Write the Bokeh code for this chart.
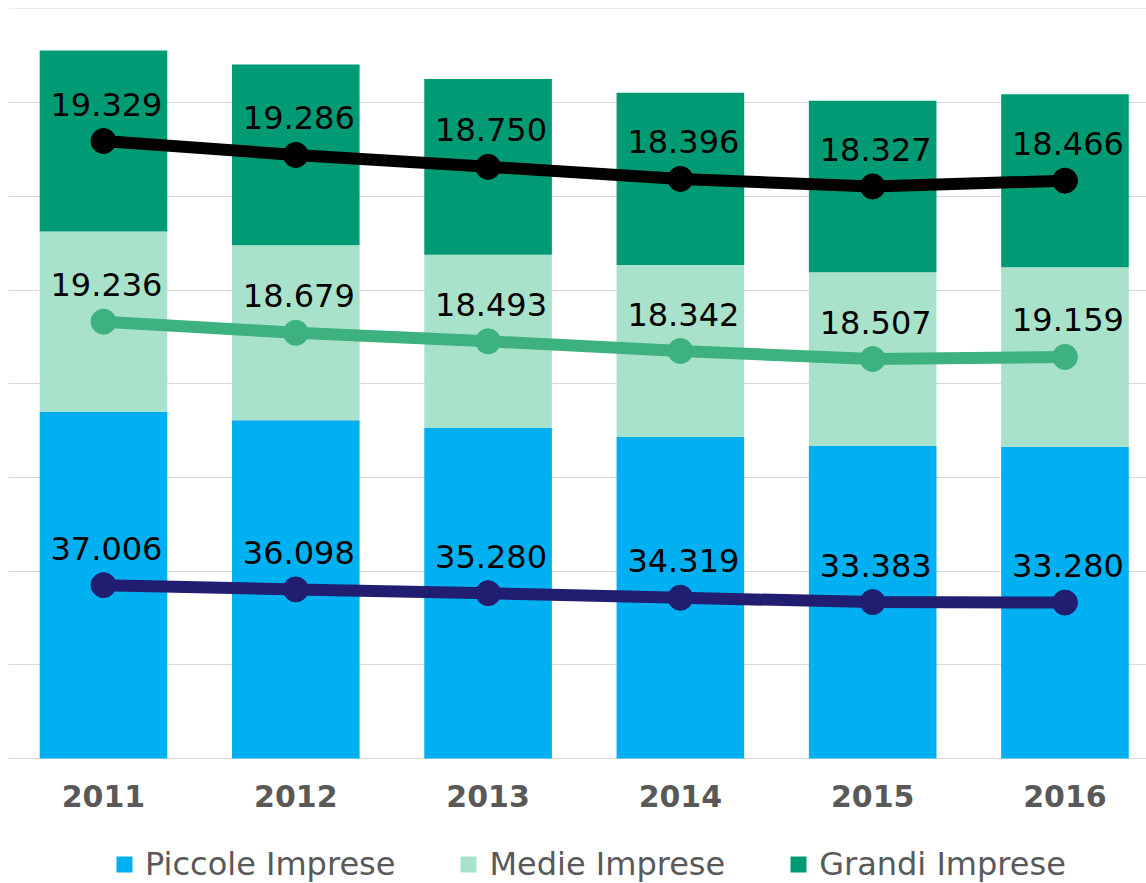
from bokeh.plotting import figure
from bokeh.models import (FixedTicker, Range1d, Legend, LegendItem)
from bokeh.core.properties import value
from bokeh.embed import file_html
from bokeh.resources import INLINE

years = ["2011", "2012", "2013", "2014", "2015", "2016"]
piccole = [37006, 36098, 35280, 34319, 33383, 33280]
medie = [19236, 18679, 18493, 18342, 18507, 19159]
grandi = [19329, 19286, 18750, 18396, 18327, 18466]
series_names = ["Piccole Imprese", "Medie Imprese", "Grandi Imprese"]
grid_values = [0, 10000, 20000, 30000, 40000, 50000, 60000, 70000, 80000]

bar_colors = ["#00B0F0", "#A9E2CA", "#009B74"]
line_colors = ["#211D70", "#3DB17F", "#000000"]

xs = list(range(len(years)))

# frame extends below zero so that the axis labels and legend sit inside it
p = figure(frame_width=1138, frame_height=875, output_backend="svg", toolbar_location=None,
           x_range=Range1d(-0.494, 5.424), y_range=Range1d(-13342, 80050),
           min_border_left=8, min_border_right=0, min_border_top=8,
           min_border_bottom=0)
p.outline_line_color = None
p.background_fill_color = "white"

data = {"x": xs, "piccole": piccole, "medie": medie, "grandi": grandi}
stack_keys = ["piccole", "medie", "grandi"]
bars = p.vbar_stack(stack_keys, x="x", width=0.6636, color=bar_colors,
                    line_color=None, source=data)

def fmt(v):
    return f"{v:,}".replace(",", ".")

# lines run through the middle of each stacked segment
bottoms = [0] * len(years)
for vals, lc in zip([piccole, medie, grandi], line_colors):
    mids = [b + v / 2 for b, v in zip(bottoms, vals)]
    p.line(xs, mids, line_color=lc, line_width=12)
    p.scatter(xs, mids, size=25, fill_color=lc, line_color=lc)
    p.text(xs, mids, text=[fmt(v) for v in vals], text_align="center",
           text_baseline="alphabetic", y_offset=-37, x_offset=3,
           text_font=value("DejaVu Sans"), text_font_size="32px",
           text_color="black")
    bottoms = [b + v for b, v in zip(bottoms, vals)]

p.yaxis.visible = False
p.ygrid.ticker = FixedTicker(ticks=grid_values)
p.ygrid.grid_line_color = "#D9D9D9"
p.ygrid.grid_line_width = 1
p.xgrid.visible = False

p.xaxis.fixed_location = 0
p.xaxis.ticker = FixedTicker(ticks=xs)
p.xaxis.major_label_overrides = {i: y for i, y in enumerate(years)}
p.xaxis.axis_line_color = None
p.xaxis.major_tick_line_color = None
p.xaxis.minor_tick_line_color = None
p.xaxis.major_tick_out = 0
p.xaxis.major_label_standoff = 27
p.xaxis.major_label_text_font = "DejaVu Sans"
p.xaxis.major_label_text_font_style = "bold"
p.xaxis.major_label_text_font_size = "30px"
p.xaxis.major_label_text_color = "#595959"

legend = Legend(items=[LegendItem(label=n, renderers=[r]) for n, r in zip(series_names, bars)],
                orientation="horizontal", location=(106, 0),
                label_text_font="DejaVu Sans", label_text_font_size="32px",
                label_text_color="#595959", glyph_width=20, glyph_height=20,
                label_standoff=11, spacing=63, padding=0, margin=0,
                border_line_color=None, background_fill_alpha=0)
p.add_layout(legend, "center")

open("out.html", "w").write(file_html(p, INLINE))
